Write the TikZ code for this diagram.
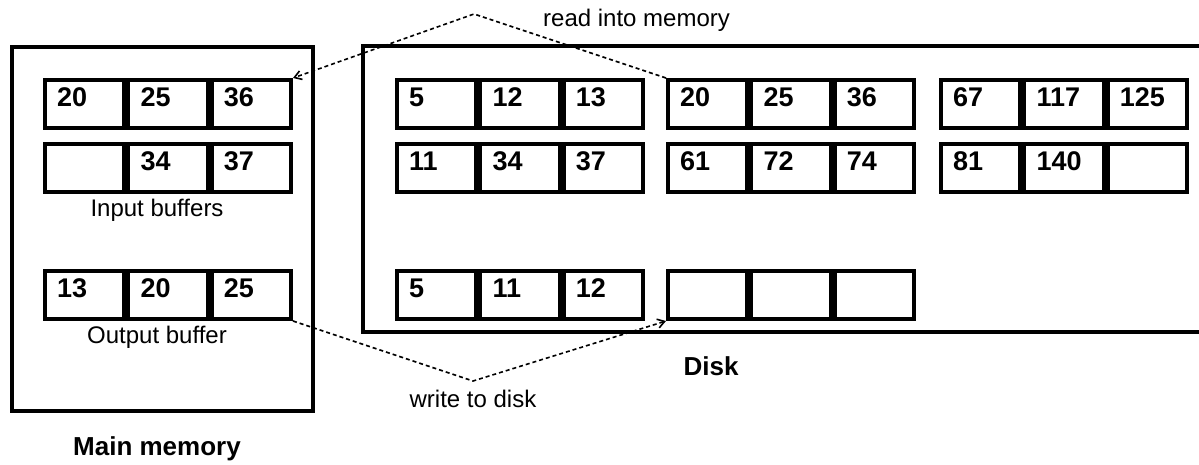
\documentclass[tikz,border=0pt]{standalone}
\usepackage{fontspec}
\setmainfont{Liberation Sans}
\usetikzlibrary{calc,arrows.meta}

% One row of three adjacent cells: #1 name, #2 left x, #3 top y, #4-#6 values
\newcommand{\cellrow}[6]{%
  \node[cell] (#1a) at (#2,#3) {};
  \node[cell] (#1b) at ($(#1a.north east)$) {};
  \node[cell] (#1c) at ($(#1b.north east)$) {};
  \node[num] (#1an) at ($(#1a.north west)+(14,28)$) {#4};
  \node[num] (#1bn) at ($(#1b.north west)+(14,28)$) {#5};
  \node[num] (#1cn) at ($(#1c.north west)+(14,28)$) {#6};
}

\begin{document}
\begin{tikzpicture}[x=1pt,y=-1pt,
  frame/.style={line width=4pt},
  cell/.style={draw, line width=4pt, rectangle, anchor=north west,
    minimum width=79.33pt, minimum height=48pt, inner sep=0pt},
  num/.style={anchor=base west, inner sep=0pt,
    font=\fontsize{27}{32}\selectfont\bfseries},
  lbl/.style={anchor=base, inner sep=0pt, font=\fontsize{24}{29}\selectfont},
  title/.style={anchor=base, inner sep=0pt,
    font=\fontsize{26}{31}\selectfont\bfseries},
  link/.style={line width=1.6pt, dash pattern=on 4pt off 3pt,
    -{Straight Barb[length=7pt,width=9pt]}}]
\useasboundingbox (0,0) rectangle (1199,464);

% Main memory
\draw[frame] (12,47) rectangle (313,411);
\cellrow{mi}{43}{78}{20}{25}{36}
\cellrow{mj}{43}{142}{}{34}{37}
\cellrow{mo}{43}{269}{13}{20}{25}
\node[lbl] (inlbl) at (157,216) {Input buffers};
\node[lbl] (outlbl) at (157,343) {Output buffer};
\node[title] (memlbl) at (157,455) {Main memory};

% Disk (runs off to the right)
\draw[frame] (1205,46) -| (363,332) -- (1205,332);
\cellrow{da}{395}{78}{5}{12}{13}
\cellrow{db}{666}{78}{20}{25}{36}
\cellrow{dc}{939}{78}{67}{117}{125}
\cellrow{dd}{395}{142}{11}{34}{37}
\cellrow{de}{666}{142}{61}{72}{74}
\cellrow{df}{939}{142}{81}{140}{}
\cellrow{dg}{395}{269}{5}{11}{12}
\cellrow{dh}{666}{269}{}{}{}
\node[title] (disklbl) at (711,375) {Disk};

% Transfers between disk and memory
\coordinate (rtop) at (474,14);
\coordinate (wbot) at (473,381);
\draw[link] (dba.north west) -- (rtop) -- (mic.north east);
\draw[link] (moc.south east) -- (wbot) -- (dha.south west);
\node[lbl, anchor=base west] (rlbl) at (543,26) {read into memory};
\node[lbl] (wlbl) at (473,407) {write to disk};
\end{tikzpicture}
\end{document}
